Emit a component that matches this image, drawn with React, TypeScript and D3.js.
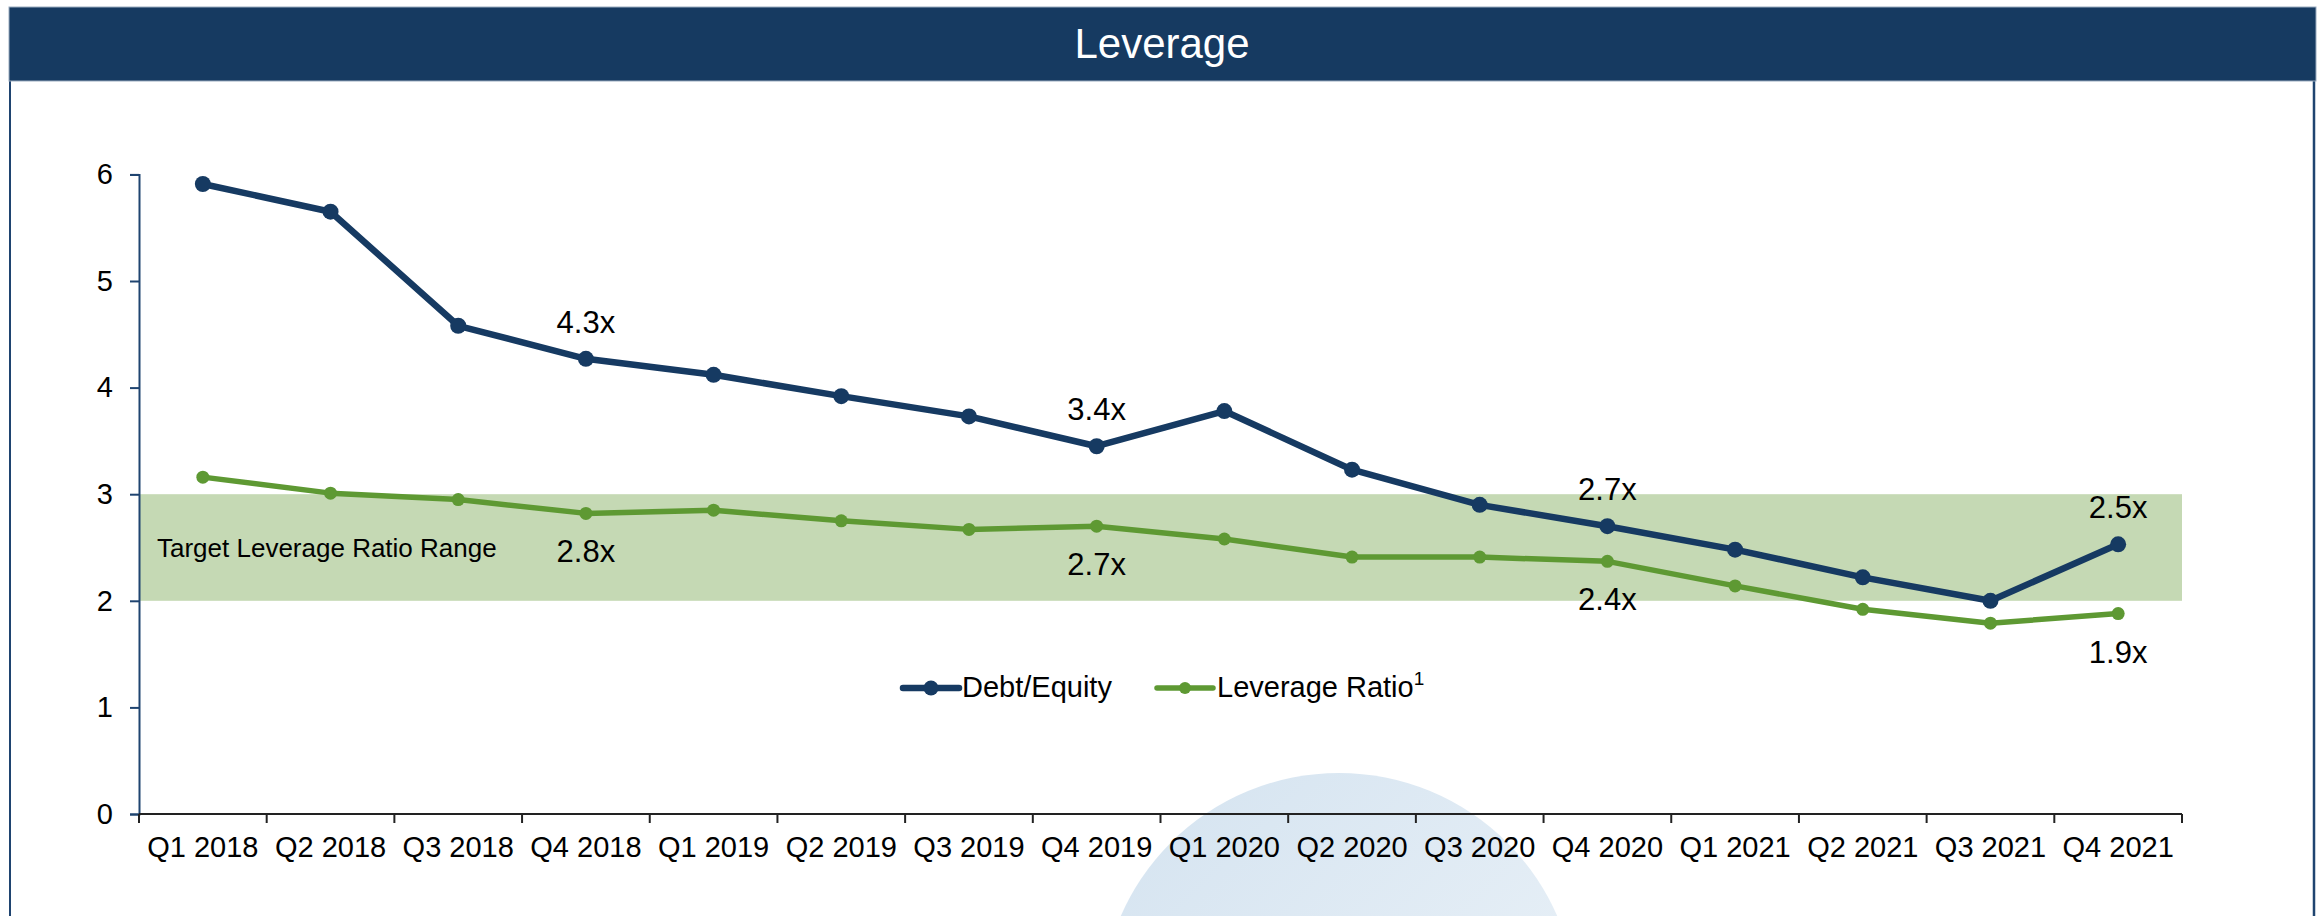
import React, { useEffect, useRef } from 'react';
import * as d3 from 'd3';

const quarters = [
  'Q1 2018', 'Q2 2018', 'Q3 2018', 'Q4 2018',
  'Q1 2019', 'Q2 2019', 'Q3 2019', 'Q4 2019',
  'Q1 2020', 'Q2 2020', 'Q3 2020', 'Q4 2020',
  'Q1 2021', 'Q2 2021', 'Q3 2021', 'Q4 2021'
];
const debtEquity = [5.91, 5.65, 4.58, 4.27, 4.12, 3.92, 3.73, 3.45, 3.78, 3.23, 2.9, 2.7, 2.48, 2.22, 2.0, 2.53];
const leverageRatio = [3.16, 3.01, 2.95, 2.82, 2.85, 2.75, 2.67, 2.7, 2.58, 2.41, 2.41, 2.37, 2.14, 1.92, 1.79, 1.88];
const yTicks = [0, 1, 2, 3, 4, 5, 6];
const targetRange = [2, 3];
const calloutQuarters = ['Q4 2018', 'Q4 2019', 'Q4 2020', 'Q4 2021'];
const deCallouts = ['4.3x', '3.4x', '2.7x', '2.5x'];
const lrCallouts = ['2.8x', '2.7x', '2.4x', '1.9x'];

const NAVY = '#163a62';
const GREEN = '#5e9933';
const FONT = '"Liberation Sans", Arial, sans-serif';

const App = () => {
  const ref = useRef<SVGSVGElement>(null);

  useEffect(() => {
    const svg = d3.select(ref.current);
    svg.selectAll('*').remove();

    const x = d3.scaleBand().domain(quarters).range([139, 2182]).padding(0);
    const y = d3.scaleLinear().domain([0, 6]).range([814, 174.4]);
    const cx = (q: string) => (x(q) as number) + x.bandwidth() / 2;

    const defs = svg.append('defs');
    const grad = defs.append('linearGradient')
      .attr('id', 'bubble').attr('x1', '0').attr('y1', '0').attr('x2', '1').attr('y2', '1');
    grad.append('stop').attr('offset', '0%').attr('stop-color', '#d4e3f0');
    grad.append('stop').attr('offset', '100%').attr('stop-color', '#eef4f9');

    svg.append('rect').attr('width', 2320).attr('height', 916).attr('fill', '#fff');

    // decorative circle behind chart
    svg.append('circle').attr('cx', 1339).attr('cy', 1011).attr('r', 238).attr('fill', 'url(#bubble)');

    // target band
    svg.append('rect')
      .attr('x', 139).attr('width', 2182 - 139)
      .attr('y', y(targetRange[1])).attr('height', y(targetRange[0]) - y(targetRange[1]))
      .attr('fill', '#c5d9b4');
    svg.append('text')
      .attr('x', 157).attr('y', 557)
      .attr('font-family', FONT).attr('font-size', 26).attr('fill', '#000')
      .text('Target Leverage Ratio Range');

    // y axis
    const yAxis = svg.append('g')
      .attr('transform', 'translate(139,0)')
      .call(d3.axisLeft(y).tickValues(yTicks).tickSize(9).tickPadding(17).tickFormat(d3.format('d')));
    yAxis.select('.domain').attr('stroke', '#1f4470').attr('stroke-width', 2);
    yAxis.selectAll('.tick line').attr('stroke', '#1f4470').attr('stroke-width', 2);
    yAxis.selectAll('.tick text')
      .attr('font-family', FONT).attr('font-size', 29).attr('fill', '#000');

    // x axis
    const xg = svg.append('g');
    xg.append('line').attr('x1', 139).attr('x2', 2182).attr('y1', 814).attr('y2', 814)
      .attr('stroke', '#222').attr('stroke-width', 2);
    const bounds = quarters.map((q) => x(q) as number).concat([2182]);
    xg.selectAll('.xt').data(bounds).join('line')
      .attr('x1', (d) => d).attr('x2', (d) => d).attr('y1', 814).attr('y2', 823)
      .attr('stroke', '#222').attr('stroke-width', 2);
    xg.selectAll('.xl').data(quarters).join('text')
      .attr('x', (d) => cx(d)).attr('y', 857)
      .attr('text-anchor', 'middle')
      .attr('font-family', FONT).attr('font-size', 29).attr('fill', '#000')
      .text((d) => d);

    // lines
    const line = d3.line<number>().x((_, i) => cx(quarters[i])).y((d) => y(d));
    svg.append('path').attr('d', line(leverageRatio)).attr('fill', 'none')
      .attr('stroke', GREEN).attr('stroke-width', 5.5).attr('stroke-linejoin', 'round');
    svg.selectAll('.lrdot').data(leverageRatio).join('circle')
      .attr('cx', (_, i) => cx(quarters[i])).attr('cy', (d) => y(d)).attr('r', 6.5).attr('fill', GREEN);

    svg.append('path').attr('d', line(debtEquity)).attr('fill', 'none')
      .attr('stroke', NAVY).attr('stroke-width', 6.5).attr('stroke-linejoin', 'round');
    svg.selectAll('.dedot').data(debtEquity).join('circle')
      .attr('cx', (_, i) => cx(quarters[i])).attr('cy', (d) => y(d)).attr('r', 8).attr('fill', NAVY);

    // callouts
    calloutQuarters.forEach((q, k) => {
      const i = quarters.indexOf(q);
      svg.append('text')
        .attr('x', cx(q)).attr('y', y(debtEquity[i]) - 26)
        .attr('text-anchor', 'middle')
        .attr('font-family', FONT).attr('font-size', 31).attr('fill', '#000')
        .text(deCallouts[k]);
      svg.append('text')
        .attr('x', cx(q)).attr('y', y(leverageRatio[i]) + 49)
        .attr('text-anchor', 'middle')
        .attr('font-family', FONT).attr('font-size', 31).attr('fill', '#000')
        .text(lrCallouts[k]);
    });

    // legend
    const lg = svg.append('g');
    lg.append('line').attr('x1', 903).attr('x2', 959).attr('y1', 688).attr('y2', 688)
      .attr('stroke', NAVY).attr('stroke-width', 6.5).attr('stroke-linecap', 'round');
    lg.append('circle').attr('cx', 931).attr('cy', 688).attr('r', 7.5).attr('fill', NAVY);
    lg.append('text').attr('x', 962).attr('y', 697)
      .attr('font-family', FONT).attr('font-size', 29).attr('fill', '#000').text('Debt/Equity');
    lg.append('line').attr('x1', 1157).attr('x2', 1213).attr('y1', 688).attr('y2', 688)
      .attr('stroke', GREEN).attr('stroke-width', 5.5).attr('stroke-linecap', 'round');
    lg.append('circle').attr('cx', 1185).attr('cy', 688).attr('r', 6).attr('fill', GREEN);
    const lt = lg.append('text').attr('x', 1217).attr('y', 697)
      .attr('font-family', FONT).attr('font-size', 29).attr('fill', '#000');
    lt.append('tspan').text('Leverage Ratio');
    lt.append('tspan').attr('font-size', 19).attr('dy', -12).text('1');

    // frame
    svg.append('line').attr('x1', 10).attr('x2', 10).attr('y1', 81).attr('y2', 916)
      .attr('stroke', '#1f4470').attr('stroke-width', 2);
    svg.append('line').attr('x1', 2314).attr('x2', 2314).attr('y1', 81).attr('y2', 916)
      .attr('stroke', '#1f4470').attr('stroke-width', 2.5);

    // header
    svg.append('rect').attr('x', 9).attr('y', 7).attr('width', 2307).attr('height', 74)
      .attr('fill', '#163a61').attr('stroke', '#9aabbf').attr('stroke-width', 1);
    svg.append('text').attr('x', 1162).attr('y', 58)
      .attr('text-anchor', 'middle')
      .attr('font-family', FONT).attr('font-size', 42).attr('fill', '#fff')
      .text('Leverage');
  }, []);

  return (
    <div style={{ position: 'absolute', left: 0, top: 0 }}>
      <svg ref={ref} width={2320} height={916} style={{ display: 'block' }}></svg>
    </div>
  );
};

export default App;
